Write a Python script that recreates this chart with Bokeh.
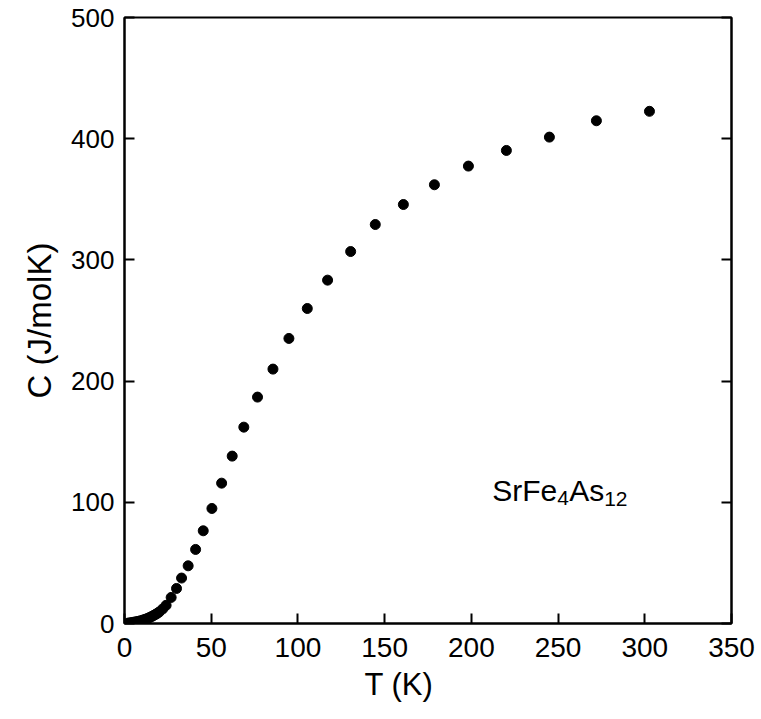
from bokeh.plotting import figure
from bokeh.models import LinearAxis, Label, FixedTicker, Range1d, Title
from bokeh.embed import file_html
from bokeh.resources import INLINE

# Temperature (K)
T = [2, 3, 4, 5, 6, 7, 8, 9, 10, 11, 12, 13, 14, 15, 16, 17, 18, 19, 20, 22, 24,
     26.9, 30.0, 32.9, 36.7, 41.0, 45.4, 50.4, 56.0, 62.1, 68.8, 76.7, 85.6, 94.8,
     105.4, 117.1, 130.4, 144.6, 160.8, 178.7, 198.3, 220.2, 245.0, 272.1, 302.7]
# Specific heat C (J/molK)
C = [0.3, 0.5, 0.7, 1.0, 1.2, 1.5, 1.8, 2.1, 2.5, 3.0, 3.5, 4.0, 4.6, 5.3, 6.0, 6.8, 7.6, 8.5, 9.5, 12.0, 15.0,
     21.5, 28.9, 37.5, 47.6, 61.1, 76.5, 94.9, 115.8, 138.1, 162.0, 186.8, 209.9, 235.2,
     259.9, 283.3, 306.9, 329.2, 345.7, 362.0, 377.4, 390.3, 401.3, 414.8, 422.6]

x_ticks = [0, 50, 100, 150, 200, 250, 300, 350]
y_ticks = [0, 100, 200, 300, 400, 500]

FONT = "Liberation Sans"

p = figure(width=755, height=713, output_backend="svg", toolbar_location=None,
           x_range=Range1d(0, 350), y_range=Range1d(0, 500),
           min_border_left=124, min_border_right=24, min_border_top=17, min_border_bottom=90,
           frame_width=607, frame_height=606)
p.grid.visible = False
p.outline_line_color = "black"
p.outline_line_width = 2
p.background_fill_color = "white"
p.border_fill_color = "white"

p.scatter(T, C, size=10, color="black", marker="circle")

for ax in (p.xaxis[0], p.yaxis[0]):
    ax.axis_line_width = 2
    ax.major_tick_line_width = 2
    ax.major_tick_in = 10
    ax.major_tick_out = 0
    ax.minor_tick_line_color = None
    ax.major_label_text_font = FONT
    ax.major_label_text_color = "black"
    ax.axis_label_text_font = FONT
    ax.axis_label_text_font_style = "normal"
    ax.axis_label_text_color = "black"

p.xaxis.major_label_text_font_size = "28px"
p.yaxis.major_label_text_font_size = "26px"
p.yaxis.axis_label_text_font_size = "33px"
p.xaxis.ticker = FixedTicker(ticks=x_ticks)
p.yaxis.ticker = FixedTicker(ticks=y_ticks)
p.yaxis.axis_label = "C (J/molK)"
p.xaxis.major_label_standoff = 14
p.yaxis.major_label_standoff = 10
p.yaxis.axis_label_standoff = 10

# x-axis title (slightly left of centre, as in the original)
p.add_layout(Title(text="T (K)", align="left", offset=240, standoff=10,
                   text_font=FONT, text_font_size="31px", text_font_style="normal",
                   text_color="black"), "below")

right = LinearAxis(ticker=FixedTicker(ticks=y_ticks),
                   major_label_overrides={t: "" for t in y_ticks},
                   axis_line_width=2, major_tick_line_width=2, major_tick_in=10, major_tick_out=0,
                   minor_tick_line_color=None, major_label_standoff=0)
p.add_layout(right, "right")

# Compound label with subscripts
base_x, base_y = 212, 110
parts = [("SrFe", 0, 0, "30px"), ("4", 65, -8, "21px"), ("As", 77, 0, "30px"), ("12", 112, -9, "21px")]
for txt, dx, dy, fs in parts:
    p.add_layout(Label(x=base_x, y=base_y, x_offset=dx, y_offset=dy, text=txt,
                       text_font=FONT, text_font_size=fs, text_color="black",
                       text_baseline="alphabetic"))

open("out.html", "w").write(file_html(p, INLINE))
